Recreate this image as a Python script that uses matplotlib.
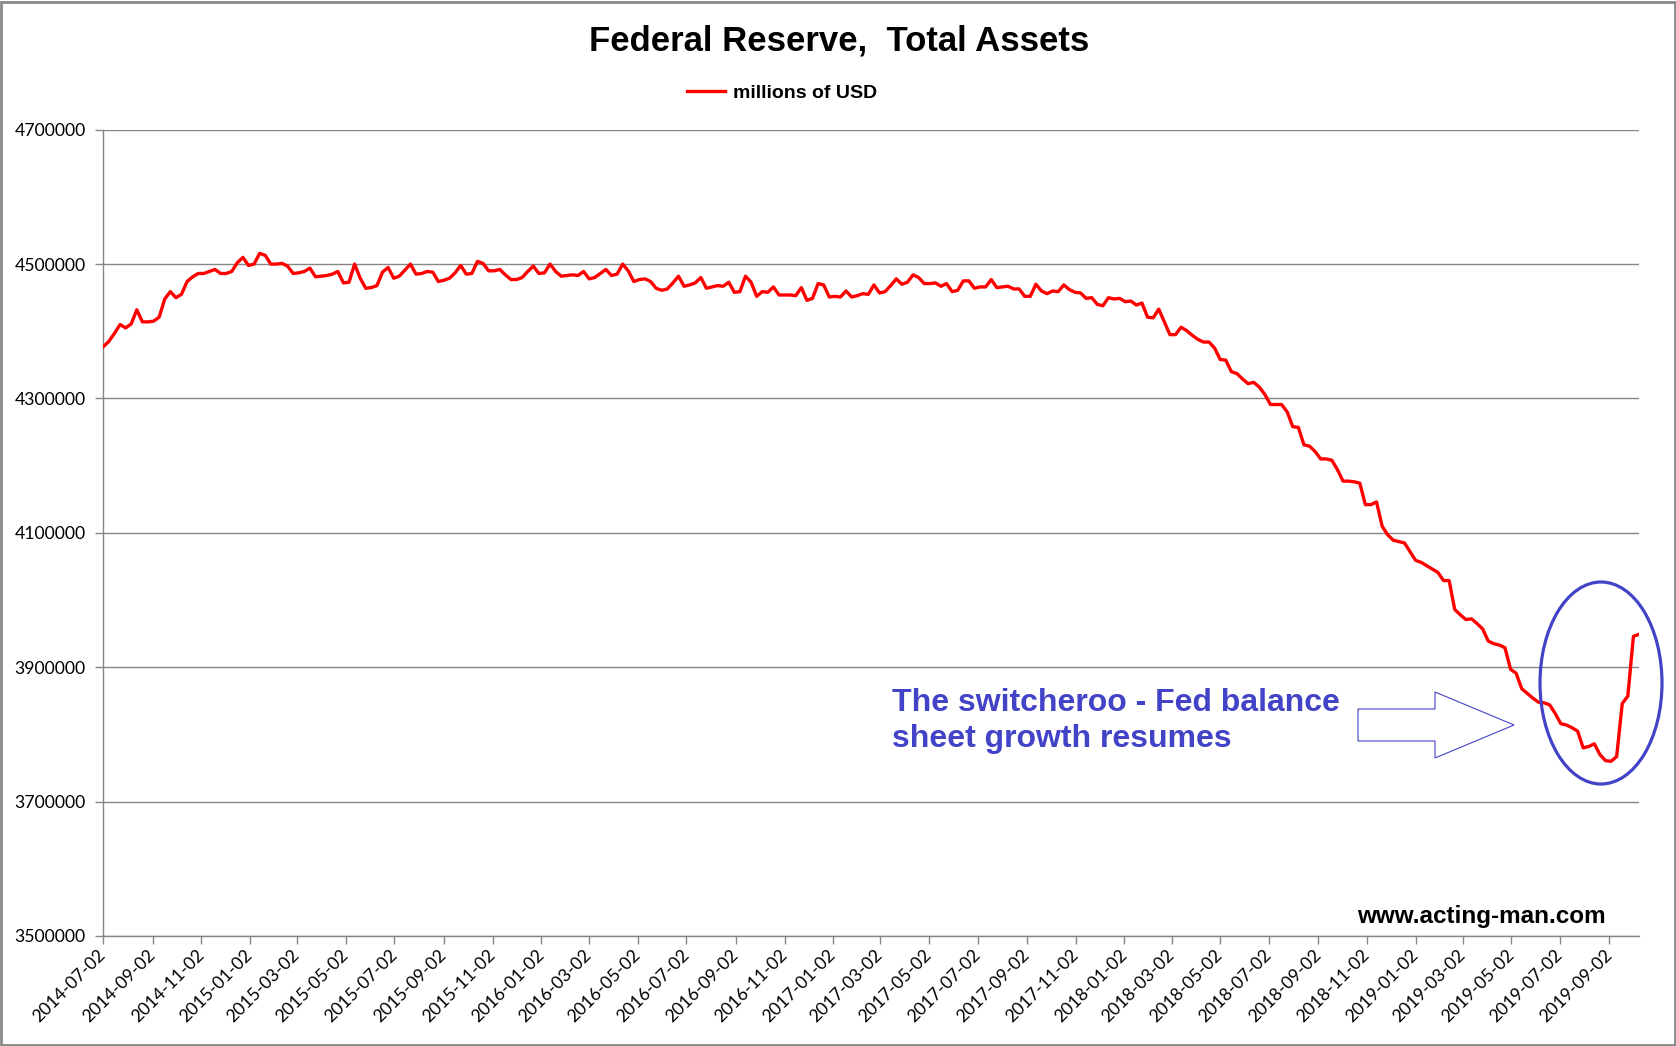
import numpy as np
import pandas as pd
import matplotlib
matplotlib.use("Agg")
import matplotlib.pyplot as plt
import matplotlib.dates as mdates
from matplotlib.patches import Ellipse, Polygon, Rectangle

# weekly Fed total assets, millions of USD
start_date = "2014-07-02"
total_assets = [
    4377000, 4385000, 4397000, 4410000, 4405000, 4411000, 4432000, 4414000, 4414000, 4415000,
    4421000, 4448000, 4459000, 4450000, 4455000, 4474000, 4481000, 4486000, 4486000, 4489000,
    4492000, 4486000, 4486000, 4489000, 4502000, 4510000, 4498000, 4500000, 4516000, 4513000,
    4500000, 4500000, 4501000, 4497000, 4486000, 4487000, 4489000, 4494000, 4481000, 4482000,
    4483000, 4485000, 4489000, 4472000, 4473000, 4500000, 4479000, 4464000, 4465000, 4468000,
    4488000, 4495000, 4479000, 4482000, 4491000, 4500000, 4485000, 4486000, 4489000, 4488000,
    4474000, 4476000, 4479000, 4487000, 4498000, 4485000, 4486000, 4504000, 4501000, 4490000,
    4490000, 4492000, 4484000, 4477000, 4477000, 4480000, 4489000, 4497000, 4486000, 4487000,
    4500000, 4489000, 4482000, 4483000, 4484000, 4483000, 4489000, 4478000, 4480000, 4486000,
    4492000, 4483000, 4485000, 4500000, 4490000, 4474000, 4477000, 4478000, 4474000, 4464000,
    4461000, 4463000, 4472000, 4482000, 4467000, 4469000, 4472000, 4480000, 4464000, 4466000,
    4468000, 4467000, 4473000, 4458000, 4459000, 4482000, 4473000, 4452000, 4459000, 4458000,
    4466000, 4454000, 4454000, 4454000, 4453000, 4465000, 4446000, 4449000, 4471000, 4469000,
    4451000, 4452000, 4451000, 4460000, 4451000, 4453000, 4456000, 4455000, 4469000, 4457000,
    4459000, 4468000, 4478000, 4470000, 4473000, 4484000, 4480000, 4471000, 4471000, 4472000,
    4467000, 4471000, 4459000, 4461000, 4475000, 4475000, 4464000, 4466000, 4466000, 4477000,
    4465000, 4466000, 4467000, 4463000, 4463000, 4452000, 4452000, 4470000, 4460000, 4456000,
    4460000, 4459000, 4469000, 4462000, 4458000, 4457000, 4449000, 4450000, 4440000, 4438000,
    4450000, 4448000, 4449000, 4444000, 4445000, 4439000, 4442000, 4421000, 4420000, 4433000,
    4414000, 4395000, 4395000, 4406000, 4401000, 4394000, 4388000, 4384000, 4384000, 4375000,
    4358000, 4357000, 4340000, 4337000, 4329000, 4322000, 4324000, 4317000, 4306000, 4291000,
    4291000, 4291000, 4280000, 4258000, 4257000, 4231000, 4229000, 4221000, 4210000, 4210000,
    4208000, 4194000, 4177000, 4177000, 4176000, 4174000, 4142000, 4142000, 4146000, 4110000,
    4097000, 4089000, 4087000, 4085000, 4072000, 4059000, 4056000, 4051000, 4046000, 4041000,
    4029000, 4029000, 3986000, 3978000, 3971000, 3972000, 3965000, 3957000, 3939000, 3935000,
    3933000, 3929000, 3897000, 3891000, 3868000, 3861000, 3854000, 3848000, 3847000, 3844000,
    3831000, 3816000, 3814000, 3810000, 3805000, 3780000, 3782000, 3786000, 3770000, 3761000,
    3760000, 3767000, 3846000, 3857000, 3946000, 3949000,
]
dates = pd.date_range(start_date, periods=len(total_assets), freq="7D")

y_ticks = list(range(3500000, 4700001, 200000))
title = "Federal Reserve,  Total Assets"
series_label = "millions of USD"
note_text = "The switcheroo - Fed balance\nsheet growth resumes"
source_text = "www.acting-man.com"

W, H = 1676, 1046
grid_col = "#868686"
blue = "#4343c8"
bold_font = ["Liberation Sans", "DejaVu Sans"]
tick_font = ["Lato", "DejaVu Sans"]


def fx(px):
    return px / W


def fy(py):
    return 1 - py / H


fig = plt.figure(figsize=(W / 100, H / 100), dpi=100)
ax = fig.add_axes([fx(103.3), fy(936), fx(1639) - fx(103.3), fy(129.7) - fy(936)])

ax.plot(dates, total_assets, color="#ff0000", lw=2.4, label=series_label, zorder=3)

ax.set_ylim(3500000, 4700000)
ax.set_yticks(y_ticks)
ax.set_yticklabels([str(v) for v in y_ticks])
ax.set_xlim(dates[0], dates[-1])
ax.xaxis.set_major_locator(mdates.MonthLocator(bymonth=[1, 3, 5, 7, 9, 11], bymonthday=2))
ax.xaxis.set_major_formatter(mdates.DateFormatter("%Y-%m-%d"))

ax.grid(axis="y", color=grid_col, lw=1.0)
ax.set_axisbelow(True)
for s in ["top", "right"]:
    ax.spines[s].set_visible(False)
for s in ["left", "bottom"]:
    ax.spines[s].set_color(grid_col)
    ax.spines[s].set_linewidth(1.0)

ax.tick_params(axis="both", color=grid_col, length=5.8, width=1.0, labelsize=12.7)
ax.tick_params(axis="y", pad=7)
ax.tick_params(axis="x", pad=6)
for lab in ax.get_yticklabels() + ax.get_xticklabels():
    lab.set_family(tick_font)
plt.setp(ax.get_xticklabels(), rotation=45, ha="right", va="center", rotation_mode="anchor")

fig.text(fx(839), fy(41), title, ha="center", va="center", fontsize=25,
         fontweight="bold", family=bold_font)
leg = ax.legend(loc="center", bbox_to_anchor=(fx(782), fy(93)), bbox_transform=fig.transFigure,
                frameon=False, handlelength=2.0, handletextpad=0.4,
                prop={"family": bold_font, "weight": "bold", "size": 14})

# annotation: text, block arrow and ellipse
fig.text(fx(892), fy(721), note_text, ha="left", va="center", fontsize=23, fontweight="bold",
         color=blue, family=bold_font, linespacing=1.28)
arrow_px = [(1358, 709), (1435, 709), (1435, 692), (1514, 725), (1435, 758), (1435, 741), (1358, 741)]
fig.patches.append(Polygon([(fx(x), fy(y)) for x, y in arrow_px], closed=True, facecolor="white",
                           edgecolor=blue, lw=0.8, transform=fig.transFigure, zorder=5))
fig.patches.append(Ellipse((fx(1601), fy(683)), fx(122), 202 / H, facecolor="none",
                           edgecolor=blue, lw=2.3, transform=fig.transFigure, zorder=6))

fig.text(fx(1357), fy(917), source_text, ha="left", va="center", fontsize=17.5,
         fontweight="bold", family=bold_font)

# outer chart border
fig.patches.append(Rectangle((fx(1), fy(1045)), fx(1674), 1043 / H, facecolor="none",
                             edgecolor="#898989", lw=2, transform=fig.transFigure))

fig.savefig("out.png", dpi=100)
